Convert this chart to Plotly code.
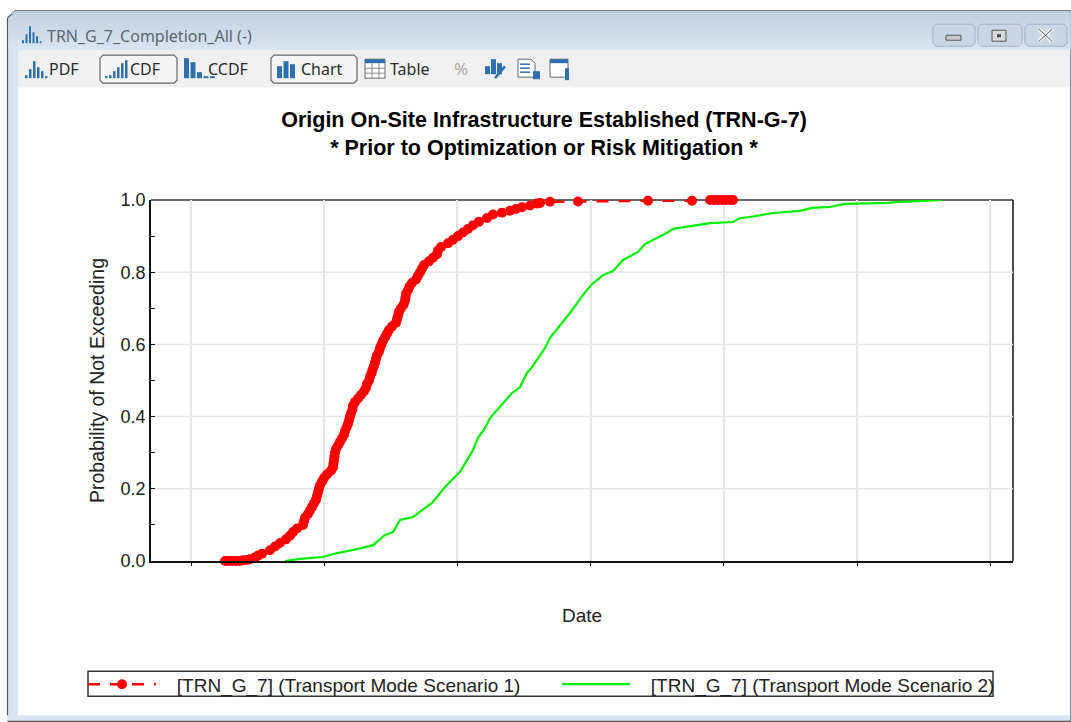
import plotly.graph_objects as go

# ---------- data (x axis is unlabelled: arbitrary day offset) ----------
scenario_1_day = [225,228,232,236,240,243,247,250,255,258,262,270,275,280,286,290,293,297,303,304,305,308,310,312,314,316,317,318,319,320,322,324,327,331,333,333.5,334,334.5,335,336,338,340,342,344,345,346.5,348,349,350,351,352.5,353,355,358,361,364,366,367,369,370,371.5,372.5,374,375,376,377,379,380,381.5,383,385,387,389,392,396,397,398,399,401,403.5,405,405.5,406,408,409.5,412,416,418,420,422,424,429,433,437,438,441,448,453,458,463,468,473,479,487,493,502,510,516,522,530,537,540,550,578,648,692,710,714,718,722,726,730,733]
scenario_1_prob = [0,0,0,0,0,0.002,0.003,0.005,0.01,0.015,0.02,0.03,0.04,0.05,0.06,0.07,0.08,0.09,0.10,0.11,0.12,0.13,0.14,0.15,0.16,0.17,0.18,0.19,0.20,0.21,0.22,0.23,0.24,0.25,0.26,0.27,0.28,0.29,0.30,0.31,0.32,0.33,0.34,0.35,0.36,0.37,0.38,0.39,0.40,0.41,0.42,0.43,0.44,0.45,0.46,0.47,0.48,0.49,0.50,0.51,0.52,0.53,0.54,0.55,0.56,0.57,0.58,0.59,0.60,0.61,0.62,0.63,0.64,0.65,0.66,0.67,0.68,0.69,0.70,0.71,0.72,0.73,0.74,0.75,0.76,0.77,0.78,0.79,0.80,0.81,0.82,0.83,0.84,0.85,0.86,0.87,0.88,0.89,0.90,0.91,0.92,0.93,0.94,0.95,0.96,0.965,0.97,0.975,0.98,0.985,0.99,0.992,0.995,0.996,0.998,0.998,1,1,1,1,1,1,1]
scenario_2_day = [285,300,323,337,357,373,385,393,400,413,432,445,460,473,478,485,490,512,520,527,532,545,550,558,563,570,583,592,603,613,623,638,645,660,667,673,693,710,733,740,750,773,800,812,830,845,888,895,918,942]
scenario_2_prob = [0,0.006,0.011,0.022,0.033,0.044,0.072,0.080,0.114,0.122,0.161,0.205,0.247,0.307,0.341,0.368,0.396,0.465,0.482,0.521,0.537,0.590,0.618,0.645,0.665,0.687,0.737,0.767,0.792,0.803,0.834,0.856,0.878,0.898,0.909,0.920,0.928,0.936,0.939,0.950,0.953,0.964,0.970,0.978,0.981,0.989,0.992,0.994,0.997,1.0]
series_names = ["[TRN_G_7] (Transport Mode Scenario 1)", "[TRN_G_7] (Transport Mode Scenario 2)"]
prob_ticks = [0,0.1,0.2,0.3,0.4,0.5,0.6,0.7,0.8,0.9,1.0]
prob_labels = ["0.0","","0.2","","0.4","","0.6","","0.8","","1.0"]
chart_title = "Origin On-Site Infrastructure Established (TRN-G-7)<br>* Prior to Optimization or Risk Mitigation *"
window_title = "TRN_G_7_Completion_All (-)"
toolbar_labels = [("PDF",47),("CDF",128),("CCDF",206),("Chart",299),("Table",388)]

# ---------- layout geometry ----------
W, H = 1071, 722
L, R, T, B = 151, 1013, 200, 561.5
PW, PH = R-L, B-T
px = lambda x: (x-L)/PW
py = lambda y: (B-y)/PH
BLUE = "#2f6fad"
shapes, notes = [], []

def rect(x0,y0,x1,y1,fill,line=None,lw=1):
    shapes.append(dict(type="rect",xref="paper",yref="paper",x0=px(x0),x1=px(x1),y0=py(y0),y1=py(y1),
                       fillcolor=fill,line=dict(color=line or fill,width=lw if line else 0),layer="below"))
def path(points,fill=None,line="#555",lw=1,close=False):
    d = "M "+" L ".join(f"{px(a):.5f} {py(b):.5f}" for a,b in points)+(" Z" if close else "")
    shapes.append(dict(type="path",xref="paper",yref="paper",path=d,fillcolor=fill or "rgba(0,0,0,0)",
                       line=dict(color=line,width=lw),layer="below"))
def rounded(x0,y0,x1,y1,fill,line,lw=1,r=3):
    pts=[(x0+r,y0),(x1-r,y0),(x1,y0+r),(x1,y1-r),(x1-r,y1),(x0+r,y1),(x0,y1-r),(x0,y0+r)]
    path(pts,fill,line,lw,True)
def text(x,y,s,size=15,color="#333",family="Noto Sans",anchor="left"):
    notes.append(dict(xref="paper",yref="paper",x=px(x),y=py(y),text=s,showarrow=False,xanchor=anchor,yanchor="middle",
                      font=dict(size=size,color=color,family=family)))
def bars(x,w,gap,bottom,heights,color=BLUE):
    for i,h in enumerate(heights):
        rect(x+i*(w+gap),bottom-h,x+i*(w+gap)+w,bottom,color)

# window frame
path([(7.5,716),(7.5,18),(15,10.5),(1071,10.5),(1071,722),(7.5,722)],"#d7e4f2","#555",1.2,False)
for i in range(39):
    t=i/38
    c=(round(0xbd+(0xd8-0xbd)*t),round(0xcb+(0xe5-0xcb)*t),round(0xd9+(0xf2-0xd9)*t))
    rect(8.2 if i>7 else 12,11+i,1071,12+i,"rgb(%d,%d,%d)"%c)
rect(18,50,1070,87,"#f0f0f0")
rect(18,87,1070,716,"#ffffff")
# window buttons
for x0,x1 in [(933,975),(978,1022),(1025,1067)]:
    rounded(x0,24,x1,46,"#c9d7e5","#9fb2c6",1)
rect(946,35,961,40,"#c8c8c8","#555",1)
rect(992,30,1006,41,"#d8d8d8","#555",1); rect(997,34,1001,37,"#444")
path([(1039,29),(1052,41)],None,"#eee",4); path([(1052,29),(1039,41)],None,"#eee",4)
path([(1039,29),(1052,41)],None,"#666",1); path([(1052,29),(1039,41)],None,"#666",1)
# toolbar toggles
rounded(100,55,177,83,"#f4f4f4","#666",1.2)
rounded(271,55,357,83,"#f4f4f4","#666",1.2)
# small icons
bars(22,2,1.5,43,[3,9,17,11,7,2])
bars(25,2.5,1.5,78,[3,9,17,11,7,2])
bars(105,2.5,1.5,78,[2,3,7,11,15,18])
bars(184,5,1.5,78,[20,16,6,2,2])
bars(277,5,1.5,78,[12,17,14])
rect(365,59,385,78,"#ffffff","#666",1); rect(365,59,385,63,BLUE)
for gx in (372,379): path([(gx,63),(gx,78)],None,"#888",1)
for gy in (68,73): path([(365,gy),(385,gy)],None,"#888",1)
bars(485,5,1,74,[8,15,11],BLUE); path([(495,78),(505,66)],None,BLUE,2.5)
path([(518,59),(531,59),(535,63),(535,77),(518,77)],"#fff","#666",1,True)
for gy in (64,68,72): path([(520,gy),(530,gy)],None,BLUE,1.5)
rect(533,71,540,79,BLUE)
rect(550,59,568,77,"#fff","#666",1); rect(550,59,568,63,BLUE); rect(565,68,569,80,BLUE)
text(45,36,window_title,16,"#5a6672")
for s,x in toolbar_labels:
    text(x,69,s,16,"#2b2b2b")
text(461,68,"%",17,"#a8a8a8",anchor="center")
# plot frame lines that sit beneath the curves
path([(L,T),(R,T)],None,"#666",2)
path([(R,T),(R,B)],None,"#111",1.5)
# legend frame
rect(88,672,993,697,"#ffffff","#333",1.5)

LEAD = "\u00a0\u00a0\u00a0"
fig = go.Figure()
fig.add_trace(go.Scatter(x=scenario_1_day,y=scenario_1_prob,name=LEAD+series_names[0],mode="lines+markers",cliponaxis=False,
    line=dict(color="#ff0000",width=2.5,dash="12px,10px"),marker=dict(color="#ff0000",size=10,line=dict(width=0))))
fig.add_trace(go.Scatter(x=scenario_2_day,y=scenario_2_prob,name=LEAD+series_names[1],mode="lines",cliponaxis=False,
    line=dict(color="#00f000",width=2.2)))

FONT="Liberation Sans"
fig.update_layout(
    width=W,height=H,margin=dict(l=L,r=W-R,t=T,b=H-B,autoexpand=False),
    paper_bgcolor="#ffffff",plot_bgcolor="rgba(0,0,0,0)",
    font=dict(family=FONT,color="#222",size=18),
    title=dict(text=chart_title,x=544/W,xanchor="center",xref="container",y=1-127/H,yref="container",yanchor="top",
               font=dict(family=FONT,size=21.5,color="#000",weight="bold")),
    xaxis=dict(range=[L,R],tick0=191,dtick=133.2,tickmode="linear",showticklabels=False,ticks="outside",ticklen=3,tickcolor="#111",
               showgrid=True,gridcolor="#e6e6e6",gridwidth=1.5,showline=True,linecolor="#111",linewidth=1.5,zeroline=False,
               title=dict(text="Date",standoff=44,font=dict(size=19,color="#222"))),
    yaxis=dict(range=[0,1],tickmode="array",tickvals=prob_ticks,ticktext=prob_labels,ticks="inside",ticklen=4,tickcolor="#111",
               showgrid=False,showline=True,linecolor="#111",linewidth=1.5,zeroline=False,tickfont=dict(size=18,color="#222"),
               title=dict(text="Probability of Not Exceeding",standoff=11,font=dict(size=19.5,color="#222"))),
    legend=dict(orientation="h",x=px(83),y=py(685),xanchor="left",yanchor="middle",borderwidth=0,
                bgcolor="rgba(0,0,0,0)",font=dict(size=19,color="#222"),itemwidth=68,
                entrywidth=391,entrywidthmode="pixels",traceorder="normal"),
    shapes=shapes,annotations=notes,
)
# horizontal gridlines at the labelled probabilities only
for v in prob_ticks[2::2][:-1]:
    fig.add_shape(type="line",xref="x",yref="y",x0=L,x1=R,y0=v,y1=v,line=dict(color="#e6e6e6",width=1.5),layer="below")
fig.write_html("out.html",config=dict(displayModeBar=False),
               post_script="document.body.style.margin='0';document.body.style.overflow='hidden';")
